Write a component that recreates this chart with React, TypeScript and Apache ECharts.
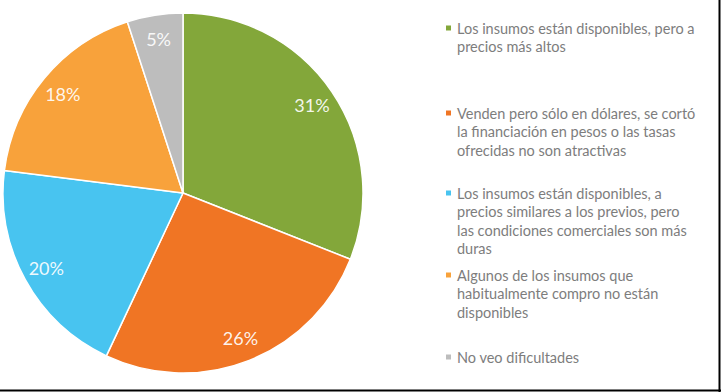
import React, { useEffect, useRef } from "react";
import * as echarts from "echarts";

const categories = [
  "Los insumos están disponibles, pero a precios más altos",
  "Venden pero sólo en dólares, se cortó la financiación en pesos o las tasas ofrecidas no son atractivas",
  "Los insumos están disponibles, a precios similares a los previos, pero las condiciones comerciales son más duras",
  "Algunos de los insumos que habitualmente compro no están disponibles",
  "No veo dificultades",
];
const legendLabels = [
  "Los insumos están disponibles, pero a\nprecios más altos",
  "Venden pero sólo en dólares, se cortó\nla financiación en pesos o las tasas\nofrecidas no son atractivas",
  "Los insumos están disponibles, a\nprecios similares a los previos, pero\nlas condiciones comerciales son más\nduras",
  "Algunos de los insumos que\nhabitualmente compro no están\ndisponibles",
  "No veo dificultades",
];
const values = [31, 26, 20, 18, 5];
const colors = ["#83A73A", "#F07524", "#48C4F0", "#F8A23B", "#BDBDBD"];
const legendFirstLineY = [28, 113, 193, 275, 357];

export default function App() {
  const ref = useRef<HTMLDivElement>(null);
  useEffect(() => {
    if (!ref.current) return;
    const chart = echarts.init(ref.current, null, { renderer: "svg" });
    const lh = 18.6;
    const font = "Lato, 'Open Sans', sans-serif";
    const data = categories.map((name, i) => ({
      name,
      value: values[i],
      itemStyle: { color: colors[i] },
    }));
    const labelData = categories.map((name, i) => ({
      name,
      value: values[i],
      itemStyle: { color: "rgba(0,0,0,0)" },
    }));
    const legends = categories.map((name, i) => {
      const n = legendLabels[i].split("\n").length;
      const lead = " \n".repeat(n - 1);
      return {
        orient: "vertical",
        left: 444,
        top: legendFirstLineY[i] - ((2 * n - 1) * lh) / 2,
        padding: 0,
        icon: "rect",
        itemWidth: 7,
        itemHeight: 7,
        selectedMode: false,
        data: [{ name, itemStyle: { color: colors[i], opacity: 1 } }],
        formatter: () => lead + legendLabels[i],
        textStyle: {
          fontFamily: font,
          fontSize: 14.5,
          color: "#7d7d7d",
          lineHeight: lh,
        },
      };
    });
    chart.setOption({
      animation: false,
      backgroundColor: "#ffffff",
      legend: legends,
      series: [
        {
          type: "pie",
          center: [183, 193],
          radius: 180,
          startAngle: 90,
          clockwise: true,
          silent: true,
          label: { show: false },
          labelLine: { show: false },
          itemStyle: { borderColor: "#ffffff", borderWidth: 1.5 },
          emphasis: { disabled: true },
          data,
        },
        {
          type: "pie",
          center: [183, 193],
          radius: [126, 180],
          startAngle: 90,
          clockwise: true,
          silent: true,
          itemStyle: { borderWidth: 0 },
          emphasis: { disabled: true },
          label: {
            show: true,
            position: "inside",
            formatter: "{c}%",
            fontFamily: font,
            fontSize: 18,
            color: "rgba(255,255,255,0.92)",
          },
          labelLine: { show: false },
          data: labelData,
        },
      ],
      graphic: [
        {
          type: "line",
          shape: { x1: 719.5, y1: 0, x2: 719.5, y2: 392 },
          style: { stroke: "#000", lineWidth: 2 },
        },
        {
          type: "line",
          shape: { x1: 0, y1: 390.5, x2: 721, y2: 390.5 },
          style: { stroke: "#000", lineWidth: 2 },
        },
      ],
    });
    return () => chart.dispose();
  }, []);
  return (
    <div
      ref={ref}
      style={{ position: "fixed", left: 0, top: 0, width: 721, height: 392 }}
    />
  );
}
